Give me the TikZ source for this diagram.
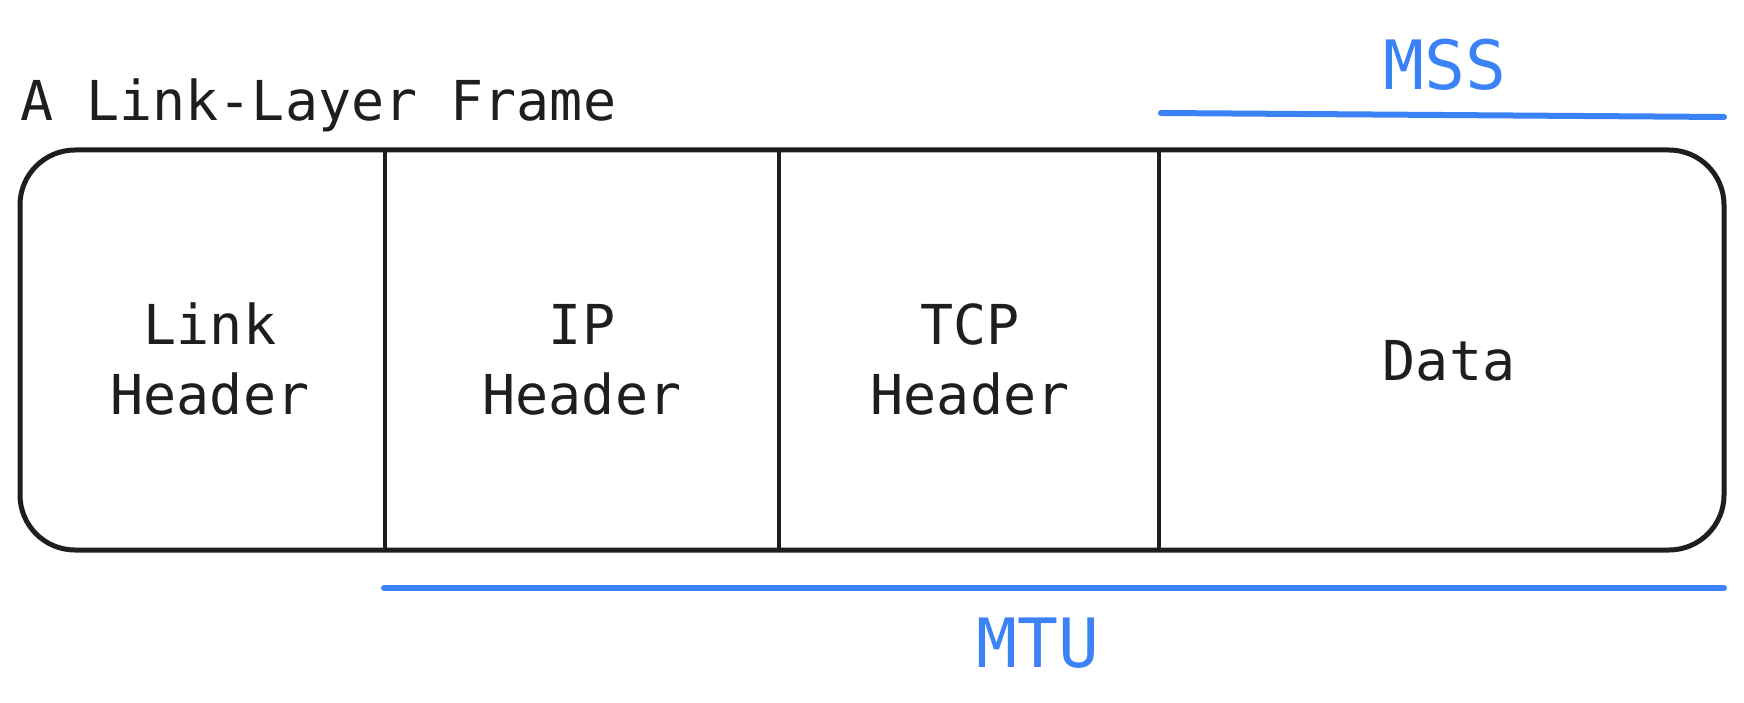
\documentclass[tikz,border=0pt]{standalone}
\usepackage{fontspec}
\setmonofont{DejaVu Sans Mono}
\definecolor{ink}{RGB}{30,30,30}
\definecolor{accent}{RGB}{59,130,246}
\begin{document}
\begin{tikzpicture}[x=1pt,y=-1pt,
  frame/.style={draw=ink,line width=5pt,rounded corners=55pt},
  divider/.style={draw=ink,line width=4pt},
  span/.style={draw=accent,line width=6pt,line cap=round},
  cell/.style={inner sep=0pt,align=center,anchor=base,text=ink,font=\ttfamily\fontsize{55}{70}\selectfont},
  title/.style={inner sep=0pt,anchor=base west,text=ink,font=\ttfamily\fontsize{55}{70}\selectfont},
  tag/.style={inner sep=0pt,anchor=base,text=accent,font=\ttfamily\fontsize{68}{80}\selectfont}]
\useasboundingbox (0,0) rectangle (1744,703);
% outer frame
\draw[frame] (20,150) rectangle (1724,550);
% dividers
\coordinate (d1t) at (385,150); \coordinate (d1b) at (385,550);
\coordinate (d2t) at (779,150); \coordinate (d2b) at (779,550);
\coordinate (d3t) at (1159,150); \coordinate (d3b) at (1159,550);
\draw[divider] (d1t) -- (d1b);
\draw[divider] (d2t) -- (d2b);
\draw[divider] (d3t) -- (d3b);
% title
\node[title] (ttl) at (20,121) {A Link-Layer Frame};
% cells
\node[cell] (link) at (210,414) {Link\\Header};
\node[cell] (ip) at (582,414) {IP\\Header};
\node[cell] (tcp) at (970,414) {TCP\\Header};
\node[cell] (data) at (1449,380) {Data};
% MSS / MTU spans
\coordinate (mssA) at (1161,113); \coordinate (mssB) at (1724,117);
\coordinate (mtuA) at (384,588); \coordinate (mtuB) at (1724,588);
\draw[span] (mssA) -- (mssB);
\draw[span] (mtuA) -- (mtuB);
\node[tag] (mss) at (1445,90) {MSS};
\node[tag] (mtu) at (1038,667) {MTU};
\end{tikzpicture}
\end{document}
